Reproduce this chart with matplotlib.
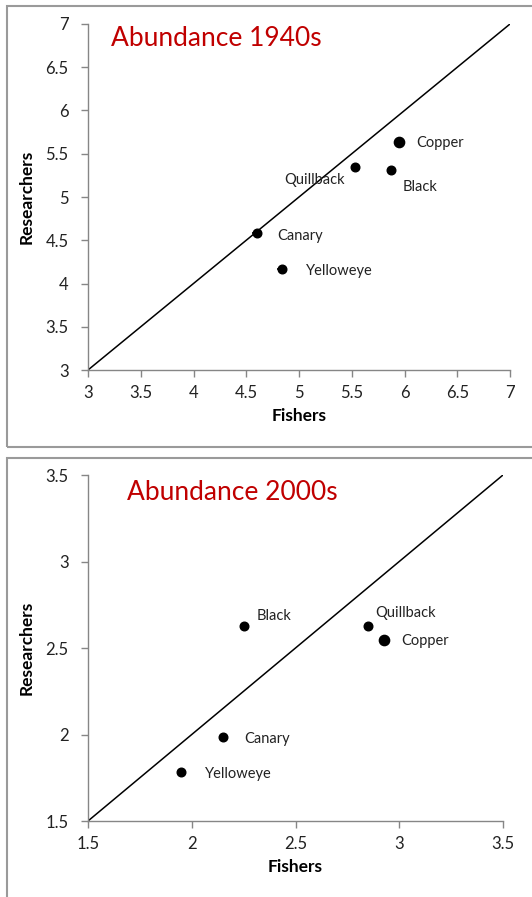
import numpy as np
import matplotlib
matplotlib.use("Agg")
import matplotlib.pyplot as plt
from matplotlib.patches import Rectangle

plt.rcParams['font.family'] = ['Lato', 'DejaVu Sans']

species = ["Copper", "Quillback", "Black", "Canary", "Yelloweye"]

# 1940s
fish_40 = [5.95, 5.53, 5.875, 4.60, 4.84]
res_40 = [5.64, 5.35, 5.31, 4.58, 4.17]
xerr_40 = [0.0, 0.0, 0.0, 0.05, 0.05]
size_40 = [7.4, 6.2, 6.2, 6.2, 6.2]
# label offsets in pixels (dx, dy, ha)
off_40 = [(17, -1, 'left'), (-10, -13, 'right'), (11, -17, 'left'),
          (20, -3, 'left'), (24, -2, 'left')]

# 2000s
fish_00 = [2.927, 2.851, 2.253, 2.15, 1.95]
res_00 = [2.546, 2.63, 2.63, 1.984, 1.785]
xerr_00 = [0.0, 0.0, 0.01, 0.0, 0.01]
size_00 = [7.4, 6.2, 6.2, 6.2, 6.2]
off_00 = [(17, -1, 'left'), (7, 13, 'left'), (12, 10, 'left'),
          (21, -2, 'left'), (24, -2, 'left')]

W, H = 532, 897
fig = plt.figure(figsize=(W / 100, H / 100), dpi=100)

gray = '#868686'

def px_axes(l, t, r, b):
    return fig.add_axes([l / W, 1 - b / H, (r - l) / W, (b - t) / H])

def panel(ax, fx, ry, xe, sz, offs, lo, hi, step, title, tpos):
    ax.plot([lo, hi], [lo, hi], color='black', lw=1.1, zorder=1)
    for i in range(len(species)):
        ax.errorbar(fx[i], ry[i], xerr=xe[i] if xe[i] > 0 else None, fmt='o',
                    color='black', ms=sz[i], elinewidth=1.2, capsize=0, zorder=3)
        dx, dy, ha = offs[i]
        ax.annotate(species[i], (fx[i], ry[i]), xytext=(dx, dy),
                    textcoords='offset pixels', ha=ha, va='center',
                    fontsize=10.5, color='#222222')
    ax.set_xlim(lo, hi)
    ax.set_ylim(lo, hi)
    ticks = np.arange(lo, hi + step / 2, step)
    lab = [('%g' % t) for t in ticks]
    ax.set_xticks(ticks)
    ax.set_xticklabels(lab)
    ax.set_yticks(ticks)
    ax.set_yticklabels(lab)
    for s in ['top', 'right']:
        ax.spines[s].set_visible(False)
    for s in ['left', 'bottom']:
        ax.spines[s].set_color(gray)
        ax.spines[s].set_linewidth(1)
    ax.tick_params(direction='out', length=5, width=1, color=gray,
                   labelsize=12, labelcolor='#222222')
    ax.tick_params(axis='x', pad=6)
    ax.tick_params(axis='y', pad=9)
    ax.set_xlabel('Fishers', fontsize=12.5, fontweight='bold', labelpad=5)
    ax.set_ylabel('Researchers', fontsize=12.5, fontweight='bold', labelpad=8)
    fig.text(tpos[0] / W, 1 - tpos[1] / H, title, color='#C00000',
             fontsize=19, ha='left', va='center')

# frame boxes
fig.patches.append(Rectangle((7 / W, 1 - 447 / H), 1, (447 - 6) / H,
                             transform=fig.transFigure, fill=False,
                             edgecolor='#9a9a9a', lw=1.5))
fig.patches.append(Rectangle((7 / W, -0.01), 1, (0.01 + (897 - 458) / H),
                             transform=fig.transFigure, fill=False,
                             edgecolor='#9a9a9a', lw=1.5))

ax1 = px_axes(88, 24, 510, 370)
panel(ax1, fish_40, res_40, xerr_40, size_40, off_40, 3, 7, 0.5,
      'Abundance 1940s', (111, 39))

ax2 = px_axes(88, 475, 503, 821)
panel(ax2, fish_00, res_00, xerr_00, size_00, off_00, 1.5, 3.5, 0.5,
      'Abundance 2000s', (127, 492))

fig.savefig('out.png', dpi=100)
